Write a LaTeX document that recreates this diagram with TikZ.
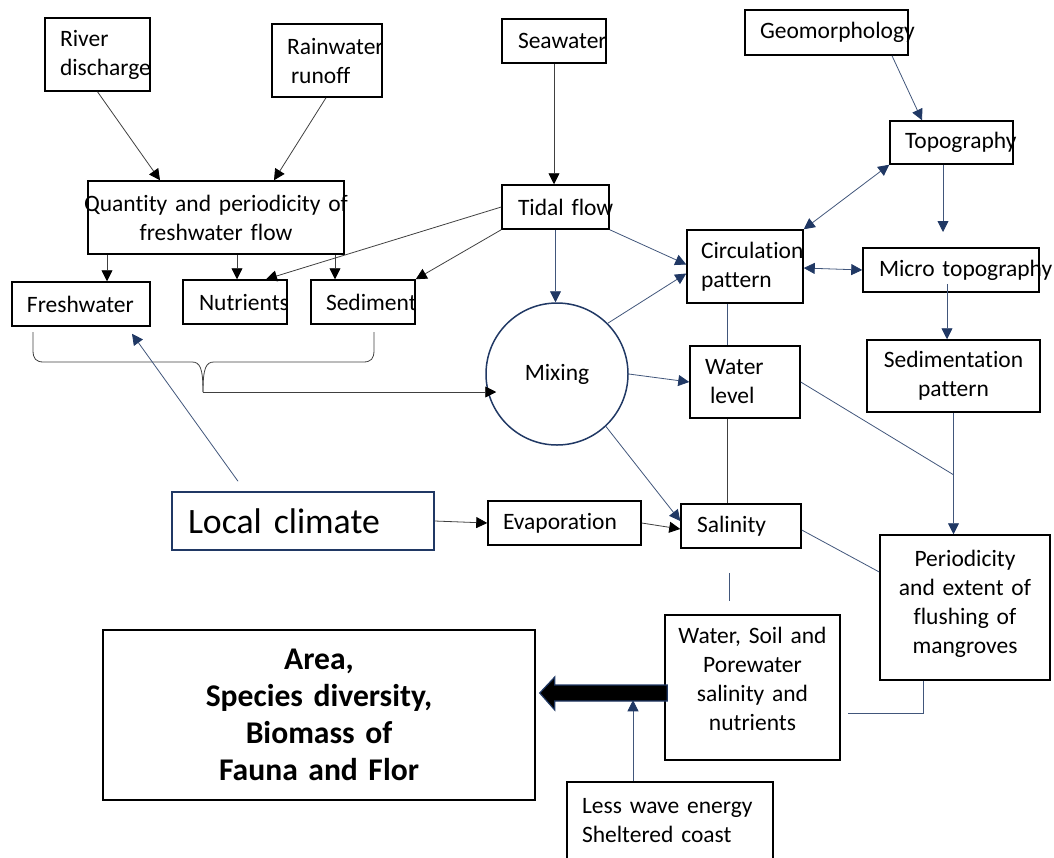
\documentclass[tikz,border=0pt]{standalone}
\usepackage{fontspec}
\setmainfont{Carlito}[Ligatures={NoCommon},WordSpace=0.85]
\usetikzlibrary{arrows.meta,calc}
\definecolor{navy}{RGB}{32,56,100}
\begin{document}
\begin{tikzpicture}[x=1pt,y=-1pt,
  box/.style={rectangle, draw=black, line width=1.5pt, inner sep=0pt,
    font=\fontsize{23.5}{29}\selectfont},
  lbox/.style={box, align=left},
  cbox/.style={box, align=center},
  conn/.style={line width=0.8pt, draw=black!75},
  arr/.style={conn, -{Triangle[length=11pt,width=11pt,color=black]}},
  nline/.style={line width=0.8pt, draw=navy!85},
  narr/.style={nline, -{Triangle[length=11pt,width=11pt,color=navy]}},
  ndarr/.style={nline, {Triangle[length=11pt,width=11pt,color=navy]}-{Triangle[length=11pt,width=11pt,color=navy]}},
  bigarrow/.style={fill=black, draw=navy, line width=1.2pt}
]
\useasboundingbox (0,0) rectangle (1054,857);

% ---- nodes ----
\node[lbox, minimum width=105pt, minimum height=73pt, text width=75pt] (river) at (97.5,54.5) {\mbox{River}\\\mbox{discharge}};
\node[lbox, minimum width=110pt, minimum height=73pt, text width=80pt] (rain) at (327,60.5) {\mbox{Rainwater}\\\mbox{\hspace*{4pt}runoff}};
\node[lbox, minimum width=104pt, minimum height=44pt, text width=72pt] (sea) at (554,41) {\mbox{Seawater}};
\node[lbox, minimum width=163pt, minimum height=45pt, text width=133pt] (geo) at (826.5,32.5) {\mbox{Geomorphology}};
\node[cbox, minimum width=256pt, minimum height=73pt, text width=256pt] (qty) at (216,217.5) {\makebox[256pt]{Quantity and periodicity of}\\\makebox[256pt]{freshwater flow}};
\node[lbox, minimum width=107pt, minimum height=44pt, text width=75pt] (tidal) at (555.5,207) {\mbox{Tidal flow}};
\node[lbox, minimum width=123pt, minimum height=43pt, text width=93pt] (topo) at (951.5,142.5) {\mbox{Topography}};
\node[lbox, minimum width=116pt, minimum height=73pt, text width=88pt] (circ) at (745,266.5) {\mbox{Circulation}\\\mbox{pattern}};
\node[lbox, minimum width=176pt, minimum height=44pt, text width=144pt] (micro) at (951,270) {\mbox{Micro topography}};
\node[lbox, minimum width=138pt, minimum height=44pt, text width=108pt] (fresh) at (81,304) {\mbox{Freshwater}};
\node[lbox, minimum width=104pt, minimum height=44pt, text width=72pt] (nutr) at (235,302) {\mbox{Nutrients}};
\node[lbox, minimum width=104pt, minimum height=44pt, text width=74pt] (sedi) at (363,302) {\mbox{Sediment}};
\node[lbox, minimum width=110pt, minimum height=72pt, text width=80pt] (wlev) at (745,382) {\mbox{Water}\\\mbox{\hspace*{5pt}level}};
\node[cbox, minimum width=173pt, minimum height=72pt, text width=173pt] (sedp) at (953.5,376) {\mbox{Sedimentation}\\\mbox{pattern}};
\node[circle, draw=navy, line width=1.5pt, inner sep=0pt, minimum size=142pt,
  font=\fontsize{23.5}{29}\selectfont] (mix) at (557,374) {Mixing};
\node[lbox, draw=navy, minimum width=262pt, minimum height=58pt, text width=230pt,
  font=\fontsize{35.7}{43}\selectfont] (clim) at (303,521) {\mbox{Local climate}};
\node[lbox, minimum width=153pt, minimum height=44pt, text width=123pt] (evap) at (564.5,523) {\mbox{Evaporation}};
\node[lbox, minimum width=120pt, minimum height=44pt, text width=88pt] (sal) at (741,526) {\mbox{Salinity}};
\node[cbox, minimum width=170pt, minimum height=145pt, text width=170pt] (peri) at (965,607.5) {\mbox{Periodicity}\\\mbox{and extent of}\\\mbox{flushing of}\\\mbox{mangroves}\\[-17pt]\mbox{}};
\node[cbox, minimum width=175pt, minimum height=145pt, text width=175pt] (wsp) at (752.5,687.5) {\mbox{Water, Soil and}\\\mbox{Porewater}\\\mbox{salinity and}\\\mbox{nutrients}\\[-11pt]\mbox{}};
\node[cbox, minimum width=432pt, minimum height=170pt, text width=432pt,
  font=\fontsize{31.6}{37}\selectfont\bfseries] (area) at (319,715) {\mbox{Area,}\\\mbox{Species diversity,}\\\mbox{Biomass of}\\\mbox{Fauna and Flor}};
\node[lbox, minimum width=206pt, minimum height=78pt, text width=176pt] (less) at (670,821) {\mbox{Less wave energy}\\\mbox{Sheltered coast}};

% ---- named free ends ----
\coordinate (topoEnd) at (943,232);
\coordinate (braceTip) at (203,392);
\coordinate (mixIn) at ($(mix.west)+(11,18)$);
\coordinate (jn) at ($(sedp.south)+(0,62)$);
\coordinate (bs) at ($(wsp.west)+(3,5.5)$);
\coordinate (bt) at ($(area.east)+(4,-22)$);

% ---- black connectors ----
\draw[arr] (river.south) -- ([xshift=-56pt]qty.north);
\draw[arr] ([xshift=-1pt]rain.south) -- ([xshift=58pt]qty.north);
\draw[arr] ([xshift=-109pt]qty.south) -- ([xshift=-109pt]qty.south |- fresh.north);
\draw[arr] ([xshift=21pt]qty.south) -- ([xshift=21pt]qty.south |- nutr.north);
\draw[arr] ([xshift=119pt]qty.south) -- ([xshift=119pt]qty.south |- sedi.north);
\draw[arr] (sea.south) -- (sea.south |- tidal.north);
\draw[arr] (tidal.west) -- ([xshift=31pt]nutr.north);
\draw[arr] (tidal.south west) -- (sedi.north east);
\draw[arr] (clim.east) -- (evap.west);
\draw[arr] (evap.east) -- ([yshift=-3pt]sal.west);
\draw[conn] ([xshift=-18pt]wlev.south) -- ([xshift=-18pt]wlev.south |- sal.north);

% brace under Freshwater / Nutrients / Sediment
\draw[conn] (33,332) -- (33,350) .. controls (33,359) and (36,362) .. (44,362) -- (192,362) .. controls (200,362) and (203,368) .. (braceTip);
\draw[conn] (374,332) -- (374,350) .. controls (374,359) and (371,362) .. (363,362) -- (214,362) .. controls (206,362) and (203,368) .. (braceTip);
\draw[arr] (braceTip) -- (mixIn);

% ---- navy connectors ----
\draw[narr] (tidal.south) -- (tidal.south |- mix.north);
\draw[narr] (tidal.south east) -- ([yshift=2pt]circ.west);
\draw[narr] (mix.45) -- ([yshift=-7pt]circ.west);
\draw[nline] ([xshift=-18pt]circ.south) -- ([xshift=-18pt]circ.south |- wlev.north);
\draw[narr] ([xshift=65.5pt]geo.south) -- ([xshift=-29.5pt]topo.north);
\draw[ndarr] (topo.south west) -- (circ.north east);
\draw[narr] ([xshift=-8.5pt]topo.south) -- (topoEnd);
\draw[ndarr] ([yshift=-1.5pt]circ.east) -- (micro.west);
\draw[narr] ([xshift=-4pt,yshift=9pt]micro.south) -- ([xshift=-4pt]micro.south |- sedp.north);
\draw[narr] (mix.east) -- (wlev.west);
\draw[nline] (wlev.east) -- (jn);
\draw[narr] (sedp.south) -- (sedp.south |- peri.north);
\draw[narr] (mix.-47) -- ([yshift=5pt]sal.west);
\draw[narr] ([xshift=-65pt,yshift=10pt]clim.north) -- ([xshift=51pt,yshift=-7pt]fresh.south);
\draw[nline] ([yshift=-4pt]sal.east) -- ([yshift=35.5pt]peri.west);
\draw[nline] ([xshift=-12pt,yshift=-24pt]sal.south) -- ++(0,28);
\draw[nline] ([xshift=-42pt]peri.south) |- ([xshift=7pt,yshift=-25.5pt]wsp.east);

% ---- big arrow to Area box ----
\filldraw[bigarrow] ($(bs)+(0,-8)$) -- ($(bt)+(15,-8)$) -- ($(bt)+(15,-16)$) -- (bt)
  -- ($(bt)+(15,17)$) -- ($(bt)+(15,8)$) -- ($(bs)+(0,8)$) -- cycle;
\draw[narr] ([xshift=-37pt]less.north) -- ++(0,-81);
\end{tikzpicture}
\end{document}
